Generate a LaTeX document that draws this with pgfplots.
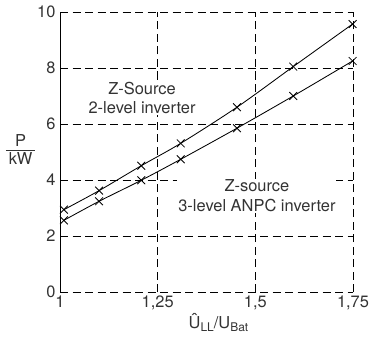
\documentclass[border=0pt]{standalone}
\usepackage{fontspec}
\setmainfont{TeX Gyre Heros}
\usepackage{pgfplots}
\pgfplotsset{compat=1.18}
\definecolor{txt}{gray}{0.2}
\begin{document}
\begin{tikzpicture}[x=1bp,y=1bp]
\begin{axis}[
  scale only axis,
  width=293bp, height=280bp,
  xmin=1, xmax=1.75, ymin=0, ymax=10,
  xtick={1,1.25,1.5,1.75},
  ytick={0,2,4,6,8,10},
  xticklabels={1,{1,25},{1,5},{1,75}},
  /pgf/number format/assume math mode=true,
  tick label style={font=\fontsize{16.5}{18}\selectfont, text=txt},
  yticklabel style={xshift=-1bp},
  axis line style={draw=none},
  grid=major,
  major grid style={black, line width=0.7pt, dash pattern=on 8bp off 4.5bp},
  xtick pos=bottom, ytick pos=left,
  tick align=inside,
  x tick style={black, line width=0.7pt},
  major tick length=5bp,
  y tick style={draw=none},
  xlabel={Û\raisebox{-0.3ex}{\fontsize{12}{12}\selectfont LL}/U\raisebox{-0.3ex}{\fontsize{12}{12}\selectfont Bat}},
  xlabel style={font=\fontsize{16.5}{18}\selectfont, text=txt, yshift=3bp, xshift=12bp},
  ylabel={\begin{tabular}{@{\hspace{3bp}}c@{\hspace{3bp}}}P\\[-2pt]\hline\rule{0pt}{14pt}kW\end{tabular}},
  ylabel style={rotate=-90, font=\fontsize{16.5}{18}\selectfont, text=txt, xshift=5bp},
  clip=false,
]
\draw[black, line width=0.8pt] (axis cs:1,0) -- (axis cs:1,10);
\addplot[black, line width=0.85pt, smooth, mark=x, mark size=5.5bp] coordinates {
(1.01,2.94) (1.10,3.62) (1.208,4.51) (1.309,5.31) (1.453,6.60) (1.597,8.05) (1.749,9.57)};
\addplot[black, line width=0.85pt, smooth, mark=x, mark size=5.5bp] coordinates {
(1.01,2.56) (1.10,3.24) (1.208,3.99) (1.309,4.74) (1.453,5.85) (1.597,7.00) (1.749,8.25)};
\node[fill=white, align=center, text=txt, font=\fontsize{16.5}{20}\selectfont, inner sep=1bp] at (axis cs:1.21,6.93) {Z-Source\\2-level inverter};
\node[fill=white, align=center, text=txt, font=\fontsize{16.5}{20}\selectfont, inner sep=1bp] at (axis cs:1.504,3.43) {Z-source\\3-level ANPC inverter};
\coordinate (LL) at (rel axis cs:0,0);
\coordinate (UR) at (rel axis cs:1,1);
\end{axis}
\pgfresetboundingbox
\path ([shift={(-60bp,-52bp)}]LL) rectangle ([shift={(20bp,12bp)}]UR);
\end{tikzpicture}
\end{document}
